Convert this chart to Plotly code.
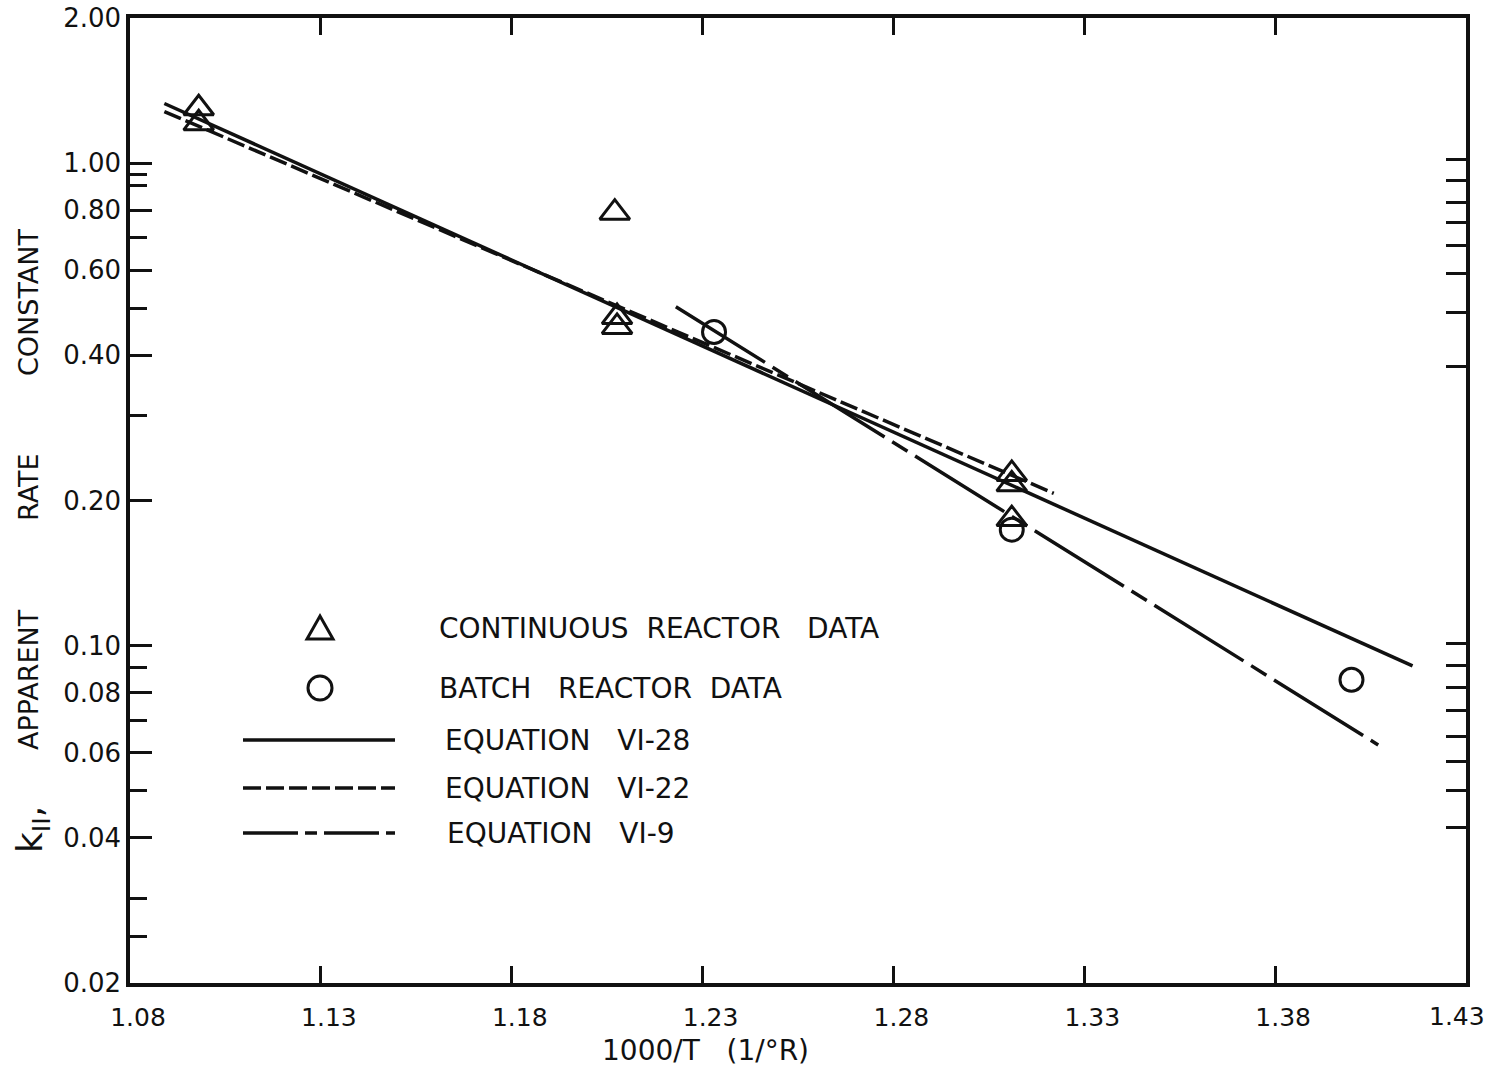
import plotly.graph_objects as go

# ---------------- data ----------------
cont_x = [1.098, 1.098, 1.207, 1.2076, 1.2076, 1.311, 1.311, 1.311]
cont_y = [1.30, 1.21, 0.79, 0.48, 0.458, 0.227, 0.216, 0.183]

batch_x = [1.233, 1.311, 1.400]
batch_y = [0.447, 0.174, 0.085]

eq28_x = [1.089, 1.416]
eq28_y = [1.33, 0.0908]
eq22_x = [1.089, 1.322]
eq22_y = [1.28, 0.207]
eq9_x = [1.223, 1.407]
eq9_y = [0.504, 0.0623]

x_tick_vals = [1.08, 1.13, 1.18, 1.23, 1.28, 1.33, 1.38, 1.43]
x_tick_text = ["1.08", "1.13", "1.18", "1.23", "1.28", "1.33", "1.38", "1.43"]
y_tick_vals = [2.0, 1.0, 0.8, 0.6, 0.4, 0.2, 0.1, 0.08, 0.06, 0.04, 0.02]
y_tick_text = ["2.00", "1.00", "0.80", "0.60", "0.40", "0.20",
               "0.10", "0.08", "0.06", "0.04", "0.02"]
y_minor_vals = [0.95, 0.9, 0.7, 0.5, 0.3, 0.09, 0.07, 0.05, 0.03, 0.025]
y_right_vals = [1.02, 0.92, 0.83, 0.755, 0.675, 0.59, 0.49, 0.38,
                0.101, 0.091, 0.082, 0.0735, 0.065, 0.0575, 0.050, 0.042]

legend_labels = ["CONTINUOUS\u00a0\u00a0REACTOR\u00a0\u00a0\u00a0DATA",
                 "BATCH\u00a0\u00a0\u00a0REACTOR\u00a0\u00a0DATA",
                 "EQUATION\u00a0\u00a0\u00a0VI-28",
                 "EQUATION\u00a0\u00a0\u00a0VI-22",
                 "EQUATION\u00a0\u00a0\u00a0VI-9"]
x_title = "1000/T\u00a0\u00a0\u00a0(1/\u00b0R)"
y_title_words = ["CONSTANT", "RATE", "APPARENT", "k<sub>II</sub>,"]

# ---------------- layout geometry ----------------
W, H = 1488, 1077
L, R, T, B = 130, 22, 18, 94
PW, PH = W - L - R, H - T - B
FONT = "DejaVu Sans"
INK = "#111111"

DASH22 = "18px,5px"
DASH9 = "105px,9px,18px,9px"


def px(x):
    return (x - L) / PW


def py(y):
    return (H - B - y) / PH


fig = go.Figure()

fig.add_trace(go.Scatter(x=eq28_x, y=eq28_y, mode="lines",
                         line=dict(color=INK, width=3.5), showlegend=False))
fig.add_trace(go.Scatter(x=eq22_x, y=eq22_y, mode="lines",
                         line=dict(color=INK, width=3.5, dash=DASH22), showlegend=False))
fig.add_trace(go.Scatter(x=eq9_x, y=eq9_y, mode="lines",
                         line=dict(color=INK, width=3.5, dash=DASH9), showlegend=False))
fig.add_trace(go.Scatter(x=cont_x, y=cont_y, mode="markers",
                         marker=dict(symbol="triangle-up-open", size=26,
                                     color=INK, line=dict(width=3, color=INK)),
                         showlegend=False))
fig.add_trace(go.Scatter(x=batch_x, y=batch_y, mode="markers",
                         marker=dict(symbol="circle-open", size=23,
                                     color=INK, line=dict(width=3, color=INK)),
                         showlegend=False))
# invisible trace bound to the right-hand tick axis
fig.add_trace(go.Scatter(x=eq28_x, y=eq28_y, mode="lines", yaxis="y2",
                         line=dict(color="rgba(0,0,0,0)", width=0),
                         hoverinfo="skip", showlegend=False))

# last x label sits flush with the page edge, so it is drawn as an annotation
axis_x_text = x_tick_text[:-1] + [""]

fig.update_layout(
    width=W, height=H,
    margin=dict(l=L, r=R, t=T, b=B, autoexpand=False),
    paper_bgcolor="white", plot_bgcolor="white",
    font=dict(family=FONT, color=INK, size=26),
    xaxis=dict(range=[1.08, 1.43], tickmode="array", tickvals=x_tick_vals,
               ticktext=axis_x_text, ticks="inside", ticklen=17, tickwidth=3,
               tickcolor=INK, showline=True, linewidth=3.5, linecolor=INK,
               mirror="ticks", showgrid=False, zeroline=False, automargin=False,
               ticklabelstandoff=9, ticklabelshift=8,
               tickfont=dict(size=25, family=FONT)),
    yaxis=dict(type="log", range=[-1.69897, 0.30103], tickmode="array",
               tickvals=y_tick_vals, ticktext=y_tick_text, ticks="inside",
               ticklen=22, tickwidth=3, tickcolor=INK, showline=True,
               linewidth=3.5, linecolor=INK, mirror=True, showgrid=False,
               zeroline=False, automargin=False, ticklabeloverflow="allow",
               tickfont=dict(size=26),
               minor=dict(tickmode="array", tickvals=y_minor_vals,
                          ticks="inside", ticklen=17, tickwidth=3,
                          tickcolor=INK, showgrid=False)),
    yaxis2=dict(type="log", range=[-1.69897, 0.30103], overlaying="y",
                side="right", tickmode="array", tickvals=y_right_vals,
                ticks="inside", ticklen=20, tickwidth=3, tickcolor=INK,
                showticklabels=False, showline=False, showgrid=False,
                zeroline=False, automargin=False),
)

# ---------------- axis titles ----------------
ann = [dict(text=x_title, x=px(705), y=py(1050), xref="paper", yref="paper",
            showarrow=False, font=dict(size=28, family=FONT, color=INK),
            xanchor="center", yanchor="middle"),
       dict(text=x_tick_text[-1], x=px(1487), y=py(1016), xref="paper",
            yref="paper", showarrow=False, xanchor="right", yanchor="middle",
            font=dict(size=25, family=FONT, color=INK))]
word_y = [302, 487, 680, 830]
word_x = [28, 28, 28, 32]
word_size = [27, 27, 27, 36]
for w, wy, wx, ws in zip(y_title_words, word_y, word_x, word_size):
    ann.append(dict(text=w, x=px(wx), y=py(wy), xref="paper", yref="paper",
                    showarrow=False, textangle=-90,
                    font=dict(size=ws, family=FONT, color=INK),
                    xanchor="center", yanchor="middle"))

# ---------------- hand-drawn legend ----------------
leg_rows = [628, 688, 740, 788, 833]
leg_text_x = [437, 437, 443, 443, 445]
for lab, ry, tx in zip(legend_labels, leg_rows, leg_text_x):
    ann.append(dict(text=lab, x=px(tx), y=py(ry), xref="paper", yref="paper",
                    showarrow=False, xanchor="left", yanchor="middle",
                    font=dict(size=28, family=FONT, color=INK)))

shapes = []
cx, cy = 320, leg_rows[0]
tri = "M {:.5f} {:.5f} L {:.5f} {:.5f} L {:.5f} {:.5f} Z".format(
    px(cx - 13), py(cy + 11), px(cx + 13), py(cy + 11), px(cx), py(cy - 12))
shapes.append(dict(type="path", path=tri, xref="paper", yref="paper",
                   line=dict(color=INK, width=3)))
cy = leg_rows[1]
shapes.append(dict(type="circle", xref="paper", yref="paper",
                   x0=px(cx - 12), x1=px(cx + 12), y0=py(cy + 12), y1=py(cy - 12),
                   line=dict(color=INK, width=3)))
for ry, dash in zip(leg_rows[2:], ["solid", DASH22, "55px,7px,12px,7px"]):
    shapes.append(dict(type="line", xref="paper", yref="paper",
                       x0=px(243), x1=px(395), y0=py(ry), y1=py(ry),
                       line=dict(color=INK, width=3.5, dash=dash)))

fig.update_layout(annotations=ann, shapes=shapes)

fig.write_html("out.html")
